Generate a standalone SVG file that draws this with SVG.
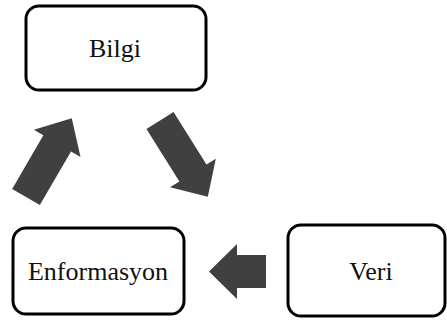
<svg xmlns="http://www.w3.org/2000/svg" width="447" height="325" viewBox="0 0 447 325">
  <style>
    .box { fill: #ffffff; stroke: #000000; stroke-width: 3; }
    .label { font-family: "Liberation Serif", "Times New Roman", serif; font-size: 26px; fill: #111111; text-anchor: middle; }
    .arrow { fill: #404040; }
  </style>
  <rect width="447" height="325" fill="#ffffff"/>

  <g id="connectors">
    <!-- Enformasyon to Bilgi -->
    <polygon class="arrow" transform="translate(26,197) rotate(-59.8)" points="0,-16 62,-16 62,-27 91,0 62,27 62,16 0,16"/>
    <!-- Bilgi to Veri side -->
    <polygon class="arrow" transform="translate(160,120.5) rotate(57.9)" points="0,-16 62,-16 62,-27 90,0 62,27 62,16 0,16"/>
    <!-- Veri to Enformasyon -->
    <polygon class="arrow" transform="translate(266,271.5) rotate(180)" points="0,-16.5 29,-16.5 29,-27.5 57,0 29,27.5 29,16.5 0,16.5"/>
  </g>

  <g id="node-bilgi">
    <rect class="box" x="26" y="6" width="180" height="84" rx="13"/>
    <text class="label" x="115" y="57">Bilgi</text>
  </g>

  <g id="node-enformasyon">
    <rect class="box" x="13" y="228" width="171" height="86" rx="13"/>
    <text class="label" x="98" y="280">Enformasyon</text>
  </g>

  <g id="node-veri">
    <rect class="box" x="288" y="225" width="157" height="91" rx="13"/>
    <text class="label" x="371" y="280">Veri</text>
  </g>
</svg>
